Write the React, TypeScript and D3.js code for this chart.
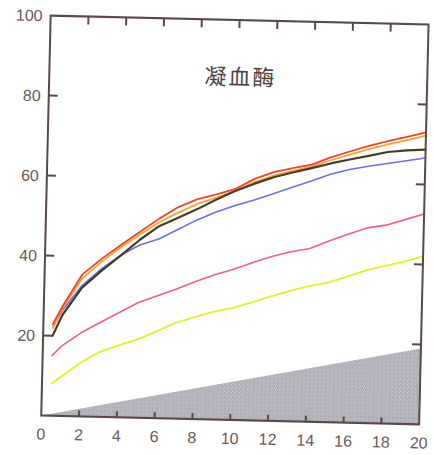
import React from "react";
import * as d3 from "d3";

const xs = [0.5, 1, 2, 3, 4, 5, 6, 7, 8, 9, 10, 11, 12, 13, 14, 15, 16, 17, 18, 19, 20];
const red = [22.9, 27.5, 35.5, 39.5, 43.1, 46.5, 49.9, 52.9, 55.0, 56.3, 57.8, 60.4, 62.2, 63.3, 64.3, 66.2, 67.8, 69.3, 70.6, 71.8, 73.0];
const orange = [22, 27, 34.5, 38.8, 42.5, 45.8, 49.0, 51.5, 53.8, 55.5, 57.3, 59.6, 61.3, 62.6, 63.8, 65.5, 67.0, 68.5, 69.8, 71.0, 72.2];
const dark = [20, 25.3, 32.2, 36.5, 40.4, 44.5, 48.0, 50.2, 52.5, 55.0, 57.3, 59.2, 60.9, 62.2, 63.4, 64.7, 65.8, 66.8, 67.9, 68.4, 68.7];
const blue = [22, 26.5, 32.7, 37.0, 40.5, 43.2, 44.8, 47.3, 49.8, 51.9, 53.6, 55.1, 56.8, 58.5, 60.2, 62.0, 63.3, 64.2, 65.0, 65.8, 66.6];
const pink = [15.1, 17.5, 20.9, 23.6, 26.2, 28.8, 30.6, 32.4, 34.4, 36.2, 37.7, 39.5, 41.1, 42.4, 43.3, 45.3, 47.1, 48.8, 49.6, 51.1, 52.6];
const yellow = [8.0, 9.8, 13.4, 16.2, 18.0, 19.6, 21.7, 24.0, 25.5, 27.0, 28.0, 29.5, 31.1, 32.6, 33.9, 34.9, 36.5, 38.2, 39.4, 40.6, 42.0];

const wedgeX = [0, 20];
const wedgeY = [0, 19];

const xTicks = [0, 2, 4, 6, 8, 10, 12, 14, 16, 18, 20];
const yTicks = [20, 40, 60, 80, 100];
const title = "凝血酶";

const series = [
  { name: "pink", values: pink, color: "#f2607f", width: 1.6 },
  { name: "yellow", values: yellow, color: "#e4ef2e", width: 1.8 },
  { name: "blue", values: blue, color: "#6d6ee8", width: 1.6 },
  { name: "orange", values: orange, color: "#f5a43a", width: 1.8 },
  { name: "dark", values: dark, color: "#4a3c22", width: 2.2 },
  { name: "red", values: red, color: "#f0442c", width: 1.8 },
];

export default function App() {
  const W = 434, H = 455;
  const L = 45.9, T = 20, PW = 378, PH = 400;
  const cx = L + PW / 2, cy = T + PH / 2;
  const x = d3.scaleLinear().domain([0, 20]).range([L, L + PW]);
  const y = d3.scaleLinear().domain([0, 100]).range([T + PH, T]);
  const line = d3.line<number>().x((_, i) => x(xs[i])).y((d) => y(d));
  const wedge = d3.area<number>().x((_, i) => x(wedgeX[i])).y0(y(0)).y1((d) => y(d));
  const axisColor = "#5a4949";
  const labelColor = "#6a5959";
  const font = "'Liberation Sans', Arial, sans-serif";
  return (
    <svg width={W} height={H} style={{ position: "absolute", left: 0, top: 0, background: "#fff" }}>
      <defs>
        <pattern id="stip" width="4" height="4" patternUnits="userSpaceOnUse">
          <rect width="4" height="4" fill="#b9b8c0" />
          <rect x="0" y="0" width="1" height="1" fill="#9c9ba5" />
          <rect x="2" y="1" width="1" height="1" fill="#a5a4ae" />
          <rect x="1" y="2" width="1" height="1" fill="#9a99a3" />
          <rect x="3" y="3" width="1" height="1" fill="#a8a7b1" />
          <rect x="3" y="0" width="1" height="1" fill="#c8c7cf" />
          <rect x="0" y="3" width="1" height="1" fill="#c5c4cc" />
        </pattern>
      </defs>
      <g transform={`rotate(1.35, ${cx}, ${cy})`}>
        <path d={wedge(wedgeY) || ""} fill="url(#stip)" />
        {series.map((s) => (
          <path key={s.name} d={line(s.values) || ""} fill="none" stroke={s.color}
            strokeWidth={s.width} strokeLinejoin="round" strokeLinecap="round" />
        ))}
        <rect x={L} y={T} width={PW} height={PH} fill="none" stroke={axisColor} strokeWidth={2} />
        {xTicks.filter((t) => t > 0 && t < 20).map((t) => (
          <g key={"xt" + t}>
            <line x1={x(t)} x2={x(t)} y1={y(0)} y2={y(0) - 6} stroke={axisColor} strokeWidth={2} />
            <line x1={x(t)} x2={x(t)} y1={y(100)} y2={y(100) + 8} stroke={axisColor} strokeWidth={2} />
          </g>
        ))}
        {yTicks.filter((t) => t < 100).map((t) => (
          <g key={"yt" + t}>
            <line x1={L} x2={L + 9} y1={y(t)} y2={y(t)} stroke={axisColor} strokeWidth={2} />
            <line x1={L + PW} x2={L + PW - 9} y1={y(t)} y2={y(t)} stroke={axisColor} strokeWidth={2} />
          </g>
        ))}
        {yTicks.map((t) => (
          <text key={"yl" + t} x={L - 8} y={y(t)} dy="0.36em" textAnchor="end"
            fontFamily={font} fontSize={16} fill={labelColor}>{t}</text>
        ))}
        {xTicks.map((t) => (
          <text key={"xl" + t} x={x(t)} y={y(0) + 24} textAnchor="middle"
            fontFamily={font} fontSize={16} fill={labelColor}>{t}</text>
        ))}
        <text x={237} y={85} textAnchor="middle" fontFamily="'Noto Sans CJK SC', sans-serif"
          fontSize={22} letterSpacing={2} fill="#4a4242">{title}</text>
      </g>
    </svg>
  );
}
